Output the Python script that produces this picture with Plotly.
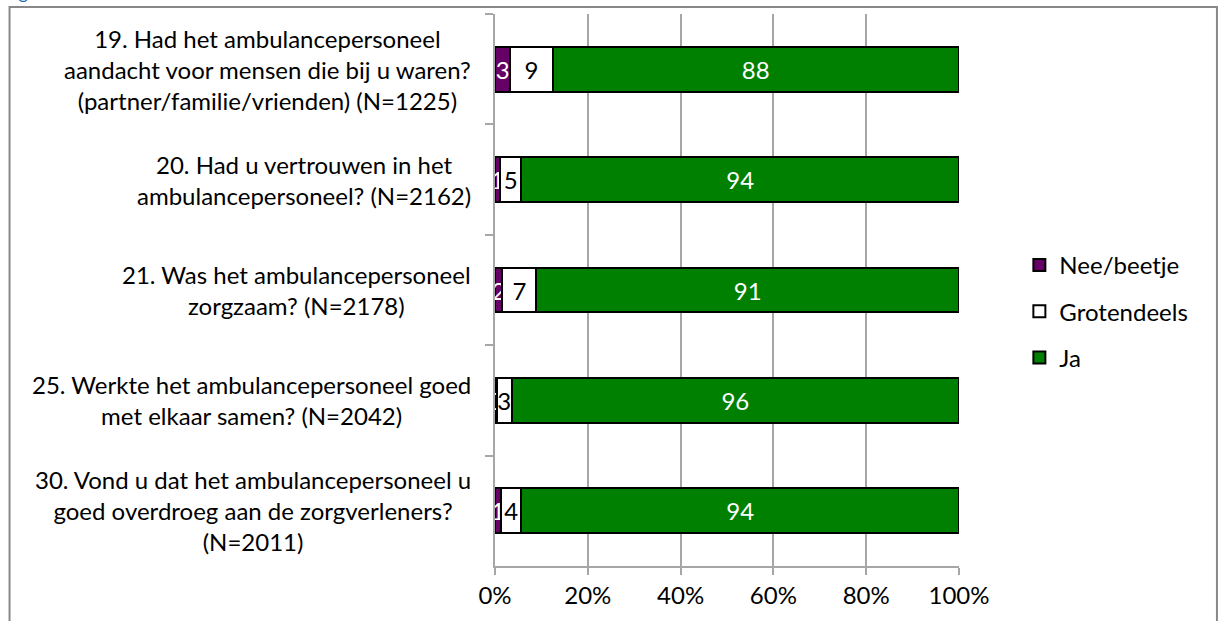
import plotly.graph_objects as go

categories = [
    "19. Had het ambulancepersoneel<br>aandacht voor mensen die bij u waren?<br>(partner/familie/vrienden) (N=1225)",
    "20. Had u vertrouwen in het<br>ambulancepersoneel? (N=2162)",
    "21. Was het ambulancepersoneel<br>zorgzaam? (N=2178)",
    "25. Werkte het ambulancepersoneel goed<br>met elkaar samen? (N=2042)",
    "30. Vond u dat het ambulancepersoneel u<br>goed overdroeg aan de zorgverleners?<br>(N=2011)",
]
keys = ["q19", "q20", "q21", "q25", "q30"]
nee = [3.3, 1.1, 1.6, 0.4, 1.3]
grotendeels = [9.1, 4.6, 7.3, 3.2, 4.4]
ja = [87.6, 94.3, 91.1, 96.4, 94.3]
x_ticks = [0, 20, 40, 60, 80, 100]
x_ticklabels = ["0%", "20%", "40%", "60%", "80%", "100%"]

FONT = "Lato"
FS = 24
series = [
    ("Nee/beetje", nee, "#660066", "white"),
    ("Grotendeels", grotendeels, "#ffffff", "black"),
    ("Ja", ja, "#008000", "white"),
]

fig = go.Figure()
for i, (name, vals, col, tcol) in enumerate(series):
    fig.add_trace(go.Bar(
        y=keys, x=vals, name=name, orientation="h",
        marker=dict(color=col, line=dict(color="black", width=2)),
        texttemplate="%{x:.0f}", textposition="inside", insidetextanchor="middle",
        textangle=0, textfont=dict(color=tcol, size=FS, family=FONT),
        legendgroup=name, cliponaxis=False,
    ))

L, R, T, B = 494.5, 259.5, 14, 52
W, H = 1219, 621
pw, ph = W - L - R, H - T - B

fig.update_layout(
    width=W, height=H, barmode="stack", bargap=0.595,
    margin=dict(l=L, r=R, t=T, b=B),
    paper_bgcolor="white", plot_bgcolor="white",
    font=dict(family=FONT, size=FS, color="black"),
    uniformtext=dict(minsize=FS, mode="show"),
    legend=dict(x=(1020 - L) / pw, xanchor="left", y=(H - B - 313) / ph, yanchor="middle",
                traceorder="grouped", tracegroupgap=12, font=dict(size=FS, family=FONT),
                itemwidth=30),
    showlegend=True,
)
fig.update_xaxes(range=[0, 100], tickvals=x_ticks, ticktext=x_ticklabels,
                 showgrid=True, gridcolor="#a6a6a6", gridwidth=1.5,
                 showline=True, linecolor="#a6a6a6", linewidth=1.5,
                 ticks="outside", ticklen=7, tickcolor="#a6a6a6", tickwidth=1.5,
                 zeroline=False, tickfont=dict(size=FS, family=FONT))
fig.update_yaxes(categoryorder="array", categoryarray=keys, autorange="reversed",
                 showticklabels=False, showline=True, linecolor="#a6a6a6", linewidth=1.5,
                 ticks="outside", ticklen=8, tickcolor="#a6a6a6", tickwidth=1.5,
                 tickson="boundaries", showgrid=False, zeroline=False)

# category labels as centered multi-line annotations, right edge near the axis
for k, lab in zip(keys, categories):
    fig.add_annotation(x=0, xref="paper", y=k, yref="y", text=lab, showarrow=False,
                       xanchor="right", yanchor="middle", align="center", xshift=-22,
                       font=dict(size=FS, family=FONT, color="black"))

# frame
fig.add_shape(type="rect", xref="paper", yref="paper",
              x0=(8 - L) / pw, x1=(1218 - L) / pw,
              y0=(H - B - 640) / ph, y1=(H - B - 7) / ph,
              line=dict(color="#888888", width=2), fillcolor="rgba(0,0,0,0)", layer="below")
fig.add_annotation(x=(0 - L) / pw, xref="paper", y=(H - B - 5) / ph, yref="paper",
                   text="Fig", showarrow=False, xanchor="left", yanchor="bottom",
                   font=dict(size=18, family=FONT, color="#1f5fa8"))
fig.write_html("out.html")
